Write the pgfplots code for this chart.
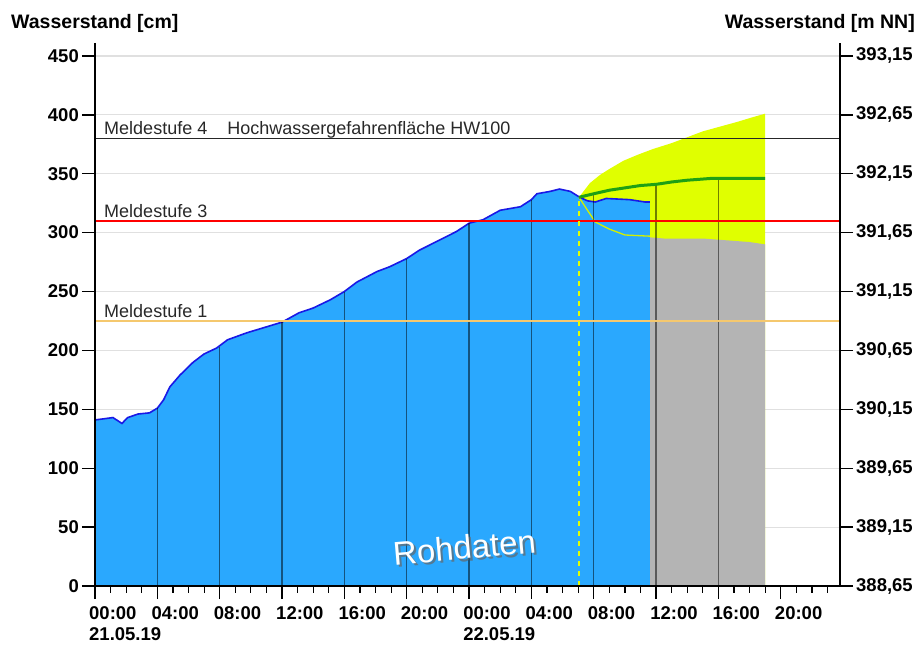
\documentclass[border=0pt]{standalone}
\usepackage{pgfplots}
\pgfplotsset{compat=1.18}
\usepackage{fontspec}
\setmainfont{Liberation Sans}
\definecolor{wblue}{RGB}{42,168,254}
\definecolor{wline}{RGB}{25,25,230}
\definecolor{wgray}{RGB}{180,180,180}
\definecolor{wyellow}{RGB}{224,255,0}
\definecolor{wyline}{RGB}{210,240,0}
\definecolor{wgreen}{RGB}{30,160,20}
\definecolor{wgrid}{RGB}{224,224,224}
\definecolor{wmeld1}{RGB}{245,200,110}
\definecolor{wtext}{RGB}{40,40,40}
\begin{document}
\begin{tikzpicture}[x=1pt,y=1pt]
\useasboundingbox (0,0) rectangle (924,645);
\pgfplotsset{
  commonax/.style={
    at={(95pt,59pt)}, anchor=south west,
    scale only axis, width=745pt, height=543pt,
    xmin=0, xmax=47.8,
    tick align=outside,
    major tick length=13pt,
    minor tick length=7pt,
    axis line style={draw=none},
    major tick style={black, line width=1.4pt},
    minor tick style={black, line width=1.2pt},
    /pgf/number format/assume math mode=true,
    ticklabel style={font=\fontsize{18.5}{21}\selectfont\bfseries},
  }
}
\begin{axis}[commonax,
  ymin=0, ymax=461,
  xtick pos=bottom, ytick pos=left,
  ytick={0,50,...,450},
  ymajorgrids, major grid style={wgrid, line width=1.2pt},
  xtick={0,4,...,44},
  minor xtick={1,2,3,5,6,7,9,10,11,13,14,15,17,18,19,21,22,23,25,26,27,29,30,31,33,34,35,37,38,39,41,42,43,45,46,47},
  xticklabels={{00:00\\21.05.19},04:00,08:00,12:00,16:00,20:00,{00:00\\22.05.19},04:00,08:00,12:00,16:00,20:00},
  xticklabel style={align=left, anchor=north west, inner sep=2pt, xshift=-8pt, yshift=-5pt},
  yticklabel style={inner sep=3pt},
  clip=true,
]
% uncertainty band (upper)
\addplot[fill=wyellow, draw=none] coordinates {
 (31.05,330)(31.75,342)(32.4,349)(33,354)(33.9,361)(34.8,366)(35.8,371)(37,376)(38,381)(39,386)(40.1,390)(41.2,394)(42.2,398)(43,401)(43,0)(31.05,0)} \closedcycle;
% gray (lower part of forecast)
\addplot[fill=wgray, draw=none] coordinates {
 (35.6,0)(35.6,296)(36.5,295)(38,295)(39,295)(40,294)(41,293)(42,292)(43,290)(43,0)} \closedcycle;
% measured data area
\addplot[fill=wblue, draw=none] coordinates {
 (0,141)(0.6,142)(1.15,143)(1.5,140)(1.73,138)(2.1,143)(2.76,146)(3.5,147)(4,151)
 (4.4,158)(4.8,169)(5.45,179)(6.3,190)(7,197)(7.8,202)(8.5,209)(9.75,215)(11,220)
 (12,224)(13.1,232)(14,236)(15.1,243)(16,250)(16.8,258)(18.1,267)(18.9,271)(20,278)
 (20.8,285)(22.3,295)(23.2,301)(24,308)(24.9,311)(26,319)(27.3,322)(28,328)(28.35,333)
 (29.2,335)(29.8,337)(30.5,335)(31.1,330)(31.6,327)(32.1,326)(32.8,329)(34.3,328)
 (35.3,326)(35.6,326)(35.6,0)} \closedcycle;
\addplot[wline, line width=1.6pt] coordinates {
 (0,141)(0.6,142)(1.15,143)(1.5,140)(1.73,138)(2.1,143)(2.76,146)(3.5,147)(4,151)
 (4.4,158)(4.8,169)(5.45,179)(6.3,190)(7,197)(7.8,202)(8.5,209)(9.75,215)(11,220)
 (12,224)(13.1,232)(14,236)(15.1,243)(16,250)(16.8,258)(18.1,267)(18.9,271)(20,278)
 (20.8,285)(22.3,295)(23.2,301)(24,308)(24.9,311)(26,319)(27.3,322)(28,328)(28.35,333)
 (29.2,335)(29.8,337)(30.5,335)(31.1,330)(31.6,327)(32.1,326)(32.8,329)(34.3,328)
 (35.3,326)(35.6,326)};
% lower forecast line
\addplot[wyline, line width=1.3pt] coordinates {(31.05,330)(32.1,309)(33,303)(34,298)(35.6,297)};
% drop lines
\addplot[ycomb, black, opacity=0.5, line width=1.2pt] coordinates {
 (4,151)(8,203)(12,224)(16,250)(20,278)(24,308)(28,328)(32,333)(36,341)(40,346)};
% thresholds
\addplot[wmeld1, line width=1.5pt] coordinates {(0,225)(47.8,225)};
\addplot[red, line width=1.5pt] coordinates {(0,310)(47.8,310)};
\addplot[black!85, line width=1.3pt] coordinates {(0,380)(47.8,380)};
% forecast median
\addplot[wgreen, line width=3pt] coordinates {
 (31.05,330)(32,333)(33,336)(34,338)(35,340)(36,341)(37,343)(38,344.5)(39.5,346)(43,346)};
% forecast start
\addplot[wyellow, line width=1.4pt, dash pattern=on 5pt off 5pt] coordinates {(31.05,0)(31.05,330)};
% labels
\node[anchor=base west, text=wtext, font=\fontsize{18}{20}\selectfont, inner sep=0pt] at (axis cs:0.58,383) {Meldestufe 4\hspace{20pt}Hochwassergefahrenfläche HW100};
\node[anchor=base west, text=wtext, font=\fontsize{18}{20}\selectfont, inner sep=0pt] at (axis cs:0.58,313) {Meldestufe 3};
\node[anchor=base west, text=wtext, font=\fontsize{18}{20}\selectfont, inner sep=0pt] at (axis cs:0.58,228) {Meldestufe 1};
\node[rotate=5, text=black!60, opacity=0.7, font=\fontsize{33}{33}\selectfont] at (axis cs:23.85,31) {Rohdaten};
\node[rotate=5, text=white, font=\fontsize{33}{33}\selectfont] at (axis cs:23.7,33) {Rohdaten};
\end{axis}
\begin{axis}[commonax,
  ymin=388.65, ymax=393.26,
  xtick=\empty, ytick pos=right,
  ytick={388.65,389.15,389.65,390.15,390.65,391.15,391.65,392.15,392.65,393.15},
  yticklabel style={inner sep=3pt, /pgf/number format/.cd, fixed, fixed zerofill, precision=2, use comma, 1000 sep={}},
  clip=false,
]
\addplot[draw=none] coordinates {(0,389)};
\draw[black, line width=1.5pt] (rel axis cs:0,1) -- (rel axis cs:0,0) -- (rel axis cs:1,0) -- (rel axis cs:1,1);
\end{axis}
\node[anchor=base west, font=\fontsize{19.5}{21}\selectfont\bfseries, inner sep=0pt] at (11,616) {Wasserstand [cm]};
\node[anchor=base east, font=\fontsize{19.5}{21}\selectfont\bfseries, inner sep=0pt] at (915,616) {Wasserstand [m NN]};
\end{tikzpicture}
\end{document}
